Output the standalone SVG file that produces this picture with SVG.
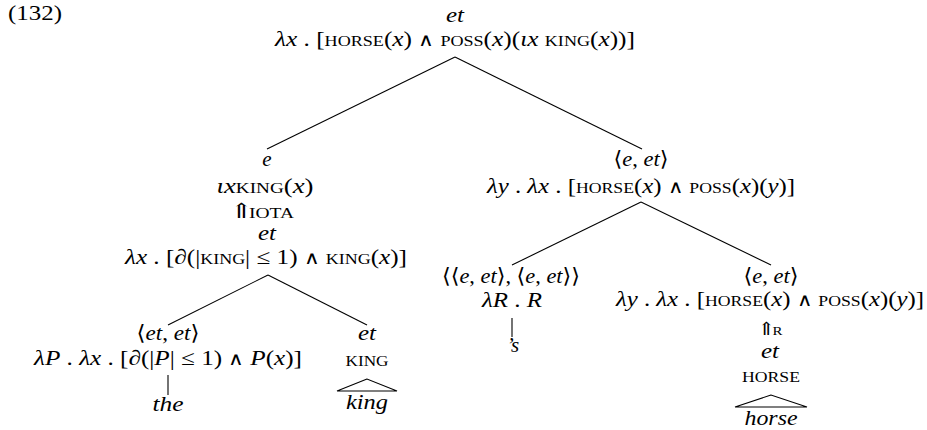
<svg xmlns="http://www.w3.org/2000/svg" width="927" height="430" viewBox="0 0 927 430">
<style>
.t{font-family:"Liberation Serif","DejaVu Serif",serif;font-size:21px;fill:#000;text-anchor:middle}
.i{font-style:italic}
.sc{font-variant:small-caps}
.op{font-family:"DejaVu Sans",sans-serif;font-weight:200;font-size:18px}
.c line,.c polygon{stroke:#000;stroke-width:1.1;fill:none}
</style>
<rect width="927" height="430" fill="#fff"/>
<text class="t" x="8" y="20" style="text-anchor:start" textLength="54" lengthAdjust="spacingAndGlyphs">(132)</text>
<g class="c" id="connectors">
<line x1="455" y1="57" x2="267" y2="149"/>
<line x1="455" y1="57" x2="642" y2="149"/>
<line x1="268" y1="275" x2="168" y2="325"/>
<line x1="268" y1="275" x2="367" y2="325"/>
<line x1="641" y1="202" x2="512" y2="265"/>
<line x1="641" y1="202" x2="771" y2="265"/>
<line x1="168" y1="375" x2="168" y2="395"/>
<line x1="512" y1="318" x2="512" y2="337"/>
<polygon points="367,379 337,391 397,391"/>
<polygon points="771,395 735,407 807,407"/>
</g>
<g id="root">
<text class="t i" x="455" y="22" textLength="18" lengthAdjust="spacingAndGlyphs">et</text>
<text class="t" x="455" y="46" textLength="360" lengthAdjust="spacingAndGlyphs"><tspan class="i">λx</tspan> . [<tspan class="sc">horse</tspan>(<tspan class="i">x</tspan>) <tspan class="op">∧</tspan> <tspan class="sc">poss</tspan>(<tspan class="i">x</tspan>)(<tspan class="i">ιx</tspan> <tspan class="sc">king</tspan>(<tspan class="i">x</tspan>))]</text>
</g>
<g id="node-e">
<text class="t i" x="267" y="166">e</text>
<text class="t" x="265" y="193" textLength="97" lengthAdjust="spacingAndGlyphs"><tspan class="i">ιx</tspan><tspan class="sc">king</tspan>(<tspan class="i">x</tspan>)</text>
<text class="t" x="262" y="218" textLength="64" lengthAdjust="spacingAndGlyphs">⇑<tspan class="sc" dx="-3">iota</tspan></text>
<text class="t i" x="267" y="240" textLength="18" lengthAdjust="spacingAndGlyphs">et</text>
<text class="t" x="266" y="264" textLength="282" lengthAdjust="spacingAndGlyphs"><tspan class="i">λx</tspan> . [∂(|<tspan class="sc">king</tspan>| ≤ 1) <tspan class="op">∧</tspan> <tspan class="sc">king</tspan>(<tspan class="i">x</tspan>)]</text>
</g>
<g id="node-e-et">
<text class="t" x="641" y="166" textLength="55" lengthAdjust="spacingAndGlyphs">⟨<tspan class="i">e</tspan>, <tspan class="i">et</tspan>⟩</text>
<text class="t" x="641" y="193" textLength="308" lengthAdjust="spacingAndGlyphs"><tspan class="i">λy</tspan> . <tspan class="i">λx</tspan> . [<tspan class="sc">horse</tspan>(<tspan class="i">x</tspan>) <tspan class="op">∧</tspan> <tspan class="sc">poss</tspan>(<tspan class="i">x</tspan>)(<tspan class="i">y</tspan>)]</text>
</g>
<g id="node-the">
<text class="t" x="168" y="340" textLength="63" lengthAdjust="spacingAndGlyphs">⟨<tspan class="i">et</tspan>, <tspan class="i">et</tspan>⟩</text>
<text class="t" x="168" y="365" textLength="268" lengthAdjust="spacingAndGlyphs"><tspan class="i">λP</tspan> . <tspan class="i">λx</tspan> . [∂(|<tspan class="i">P</tspan>| ≤ 1) <tspan class="op">∧</tspan> <tspan class="i">P</tspan>(<tspan class="i">x</tspan>)]</text>
</g>
<g id="leaf-the">
<text class="t i" x="168" y="411" textLength="31" lengthAdjust="spacingAndGlyphs">the</text>
</g>
<g id="node-king">
<text class="t i" x="367" y="340" textLength="18" lengthAdjust="spacingAndGlyphs">et</text>
<text class="t sc" x="367" y="366" textLength="43" lengthAdjust="spacingAndGlyphs">king</text>
</g>
<g id="leaf-king">
<text class="t i" x="367" y="409" textLength="42" lengthAdjust="spacingAndGlyphs">king</text>
</g>
<g id="node-s">
<text class="t" x="511" y="283" textLength="138" lengthAdjust="spacingAndGlyphs">⟨⟨<tspan class="i">e</tspan>, <tspan class="i">et</tspan>⟩, ⟨<tspan class="i">e</tspan>, <tspan class="i">et</tspan>⟩⟩</text>
<text class="t" x="512" y="307" textLength="60" lengthAdjust="spacingAndGlyphs"><tspan class="i">λR</tspan> . <tspan class="i">R</tspan></text>
</g>
<g id="leaf-s">
<text class="t i" x="513" y="352">’s</text>
</g>
<g id="node-horse-r">
<text class="t" x="771" y="283" textLength="55" lengthAdjust="spacingAndGlyphs">⟨<tspan class="i">e</tspan>, <tspan class="i">et</tspan>⟩</text>
<text class="t" x="770" y="306" textLength="308" lengthAdjust="spacingAndGlyphs"><tspan class="i">λy</tspan> . <tspan class="i">λx</tspan> . [<tspan class="sc">horse</tspan>(<tspan class="i">x</tspan>) <tspan class="op">∧</tspan> <tspan class="sc">poss</tspan>(<tspan class="i">x</tspan>)(<tspan class="i">y</tspan>)]</text>
<text class="t" x="770" y="335" style="font-size:18px" textLength="25" lengthAdjust="spacingAndGlyphs">⇑<tspan class="sc" dx="-2">r</tspan></text>
</g>
<g id="node-horse">
<text class="t i" x="770" y="358" textLength="18" lengthAdjust="spacingAndGlyphs">et</text>
<text class="t sc" x="771" y="382" textLength="58" lengthAdjust="spacingAndGlyphs">horse</text>
</g>
<g id="leaf-horse">
<text class="t i" x="771" y="425" textLength="53" lengthAdjust="spacingAndGlyphs">horse</text>
</g>
</svg>
